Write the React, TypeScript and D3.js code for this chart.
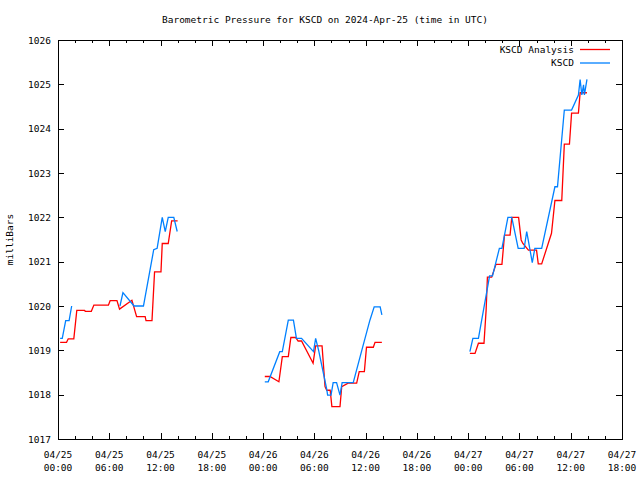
import React from "react";
import * as d3 from "d3";

const TITLE = "Barometric Pressure for KSCD on 2024-Apr-25 (time in UTC)";
const Y_LABEL = "milliBars";
const SERIES_NAMES = ["KSCD Analysis", "KSCD"];
const SERIES_COLORS = ["#ff0000", "#0080ff"];

// hours since 2024-04-25 00:00 UTC
const analysisHours = [
  0.25, 1.0, 1.2, 1.85, 2.2, 3.1, 3.2, 3.9, 4.2, 5.9, 6.1, 6.9, 7.2, 8.65, 9.2, 10.2, 10.3, 11.0, 11.3, 12.05, 12.2, 12.9, 13.3, 14.0,
  24.2, 24.8, 25.85, 26.25, 26.95, 27.25, 27.8, 28.1, 28.5, 29.85, 30.15, 30.9, 31.25, 31.45, 31.85, 32.05, 33.0, 33.2, 33.95, 34.95, 35.25, 35.85, 36.1, 36.9, 37.1, 37.9,
  48.2, 48.8, 49.2, 49.85, 50.1, 50.25, 50.75, 51.25, 51.95, 52.25, 52.9, 53.1, 53.9, 54.2, 54.4, 55.05, 56.0, 56.2, 56.6, 57.75, 58.15, 58.95, 59.25, 59.85, 60.1, 60.9, 61.1, 61.9,
];
const analysisValues = [
  1019.18, 1019.18, 1019.26, 1019.26, 1019.9, 1019.9, 1019.88, 1019.88, 1020.02, 1020.02, 1020.12, 1020.12, 1019.93, 1020.13, 1019.76, 1019.76, 1019.67, 1019.67, 1020.77, 1020.77, 1021.41, 1021.41, 1021.92, 1021.92,
  1018.41, 1018.41, 1018.29, 1018.86, 1018.86, 1019.29, 1019.29, 1019.21, 1019.21, 1018.71, 1019.1, 1019.1, 1018.18, 1018.1, 1018.1, 1017.73, 1017.73, 1018.18, 1018.26, 1018.26, 1018.52, 1018.52, 1019.07, 1019.07, 1019.18, 1019.18,
  1018.93, 1018.93, 1019.16, 1019.16, 1019.91, 1020.65, 1020.65, 1020.94, 1020.94, 1021.6, 1021.6, 1022.0, 1022.0, 1021.49, 1021.41, 1021.26, 1021.26, 1020.95, 1020.95, 1021.64, 1022.38, 1022.38, 1023.65, 1023.65, 1024.35, 1024.35, 1024.81, 1024.81,
];

const stationHours = [
  0.25, 0.5, 0.9, 1.3, 1.6, 7.25, 7.6, 8.9, 10.0, 11.2, 11.6, 12.2, 12.55, 12.9, 13.55, 13.95,
  24.2, 24.6, 25.95, 26.25, 26.95, 27.55, 27.9, 28.5, 29.9, 30.15, 30.5, 31.45, 31.55, 31.95, 32.2, 32.6, 33.0, 33.25, 34.55, 35.55, 36.5, 37.0, 37.7, 37.9,
  48.2, 48.55, 49.2, 50.35, 50.5, 50.85, 51.65, 51.95, 52.65, 53.1, 53.85, 54.55, 54.85, 55.5, 55.8, 56.6, 58.15, 58.45, 59.25, 60.1, 60.9, 61.1, 61.3, 61.5, 61.6, 61.9,
];
const stationValues = [
  1019.27, 1019.27, 1019.67, 1019.67, 1020.0, 1020.0, 1020.3, 1020.0, 1020.0, 1021.27, 1021.3, 1022.0, 1021.68, 1022.0, 1022.0, 1021.68,
  1018.29, 1018.29, 1018.97, 1018.97, 1019.68, 1019.68, 1019.27, 1019.27, 1018.97, 1019.27, 1019.0, 1018.12, 1017.99, 1017.99, 1018.27, 1018.27, 1017.99, 1018.27, 1018.27, 1019.0, 1019.68, 1019.98, 1019.98, 1019.8,
  1018.97, 1019.27, 1019.27, 1020.51, 1020.68, 1020.68, 1021.3, 1021.3, 1022.0, 1022.0, 1021.3, 1021.3, 1021.68, 1020.98, 1021.3, 1021.3, 1022.69, 1022.69, 1024.42, 1024.42, 1024.76, 1025.11, 1024.76, 1024.99, 1024.76, 1025.11,
];

const Y_MIN = 1017;
const Y_MAX = 1026;
const START = Date.UTC(2024, 3, 25, 0);
const END = Date.UTC(2024, 3, 27, 18);

const FONT = "'DejaVu Sans Mono', 'Liberation Mono', monospace";

function segments(hours: number[], values: number[]) {
  const segs: { t: Date; v: number }[][] = [];
  let cur: { t: Date; v: number }[] = [];
  hours.forEach((h, i) => {
    if (i > 0 && h - hours[i - 1] > 3) {
      segs.push(cur);
      cur = [];
    }
    cur.push({ t: new Date(START + h * 3600e3), v: values[i] });
  });
  if (cur.length) segs.push(cur);
  return segs;
}

export default function App() {
  const W = 640, H = 480;
  const left = 58, right = 622, top = 40, bottom = 439;
  const x = d3.scaleUtc().domain([new Date(START), new Date(END)]).range([left, right]);
  const y = d3.scaleLinear().domain([Y_MIN, Y_MAX]).range([bottom, top]);
  const line = d3
    .line<{ t: Date; v: number }>()
    .x((d) => x(d.t))
    .y((d) => y(d.v));

  const majorX = x.ticks(d3.utcHour.every(6)!);
  const minorX = x.ticks(d3.utcHour.every(2)!).filter((d) => d.getUTCHours() % 6 !== 0);
  const yTicks = d3.range(Y_MIN, Y_MAX + 1);
  const fmtDate = d3.utcFormat("%m/%d");
  const fmtTime = d3.utcFormat("%H:%M");

  const series = [
    { name: SERIES_NAMES[0], color: SERIES_COLORS[0], segs: segments(analysisHours, analysisValues) },
    { name: SERIES_NAMES[1], color: SERIES_COLORS[1], segs: segments(stationHours, stationValues) },
  ];

  return (
    <svg
      width={W}
      height={H}
      style={{ position: "absolute", left: 0, top: 0, background: "#fff" }}
      fontFamily={FONT}
      fontSize={9}
    >
      <rect x={0} y={0} width={W} height={H} fill="#fff" />
      <text x={325} y={23} textAnchor="middle" fontSize={9.5}>
        {TITLE}
      </text>
      <text transform={`translate(13,${(top + bottom) / 2}) rotate(-90)`} textAnchor="middle" fontSize={9.5}>
        {Y_LABEL}
      </text>

      {/* y ticks */}
      {yTicks.map((v) => (
        <g key={v}>
          <line x1={left} x2={left + 6} y1={Math.round(y(v)) + 0.5} y2={Math.round(y(v)) + 0.5} stroke="#000" />
          <line x1={right} x2={right - 6} y1={Math.round(y(v)) + 0.5} y2={Math.round(y(v)) + 0.5} stroke="#000" />
          <text x={51} y={y(v) + 3.5} textAnchor="end" fontSize={9.5}>
            {v}
          </text>
        </g>
      ))}

      {/* x ticks */}
      {minorX.map((d) => (
        <g key={"m" + d.getTime()}>
          <line x1={Math.round(x(d)) + 0.5} x2={Math.round(x(d)) + 0.5} y1={bottom} y2={bottom - 3} stroke="#000" />
          <line x1={Math.round(x(d)) + 0.5} x2={Math.round(x(d)) + 0.5} y1={top} y2={top + 3} stroke="#000" />
        </g>
      ))}
      {majorX.map((d) => (
        <g key={"M" + d.getTime()}>
          <line x1={Math.round(x(d)) + 0.5} x2={Math.round(x(d)) + 0.5} y1={bottom} y2={bottom - 6} stroke="#000" />
          <line x1={Math.round(x(d)) + 0.5} x2={Math.round(x(d)) + 0.5} y1={top} y2={top + 6} stroke="#000" />
          <text x={x(d)} y={458} textAnchor="middle" fontSize={9.5}>
            {fmtDate(d)}
          </text>
          <text x={x(d)} y={471} textAnchor="middle" fontSize={9.5}>
            {fmtTime(d)}
          </text>
        </g>
      ))}

      {/* data */}
      {series.map((s) =>
        s.segs.map((seg, i) => (
          <path key={s.name + i} d={line(seg) ?? ""} fill="none" stroke={s.color} strokeWidth={1.3} />
        ))
      )}

      {/* frame */}
      <rect x={left + 0.5} y={top + 0.5} width={right - left} height={bottom - top} fill="none" stroke="#000" />

      {/* legend */}
      {series.map((s, i) => (
        <g key={"lg" + s.name}>
          <text x={574} y={52.5 + i * 13.5} textAnchor="end" fontSize={9.5}>
            {s.name}
          </text>
          <line x1={580} x2={610} y1={49.5 + i * 13.5} y2={49.5 + i * 13.5} stroke={s.color} strokeWidth={1.3} />
        </g>
      ))}
    </svg>
  );
}
